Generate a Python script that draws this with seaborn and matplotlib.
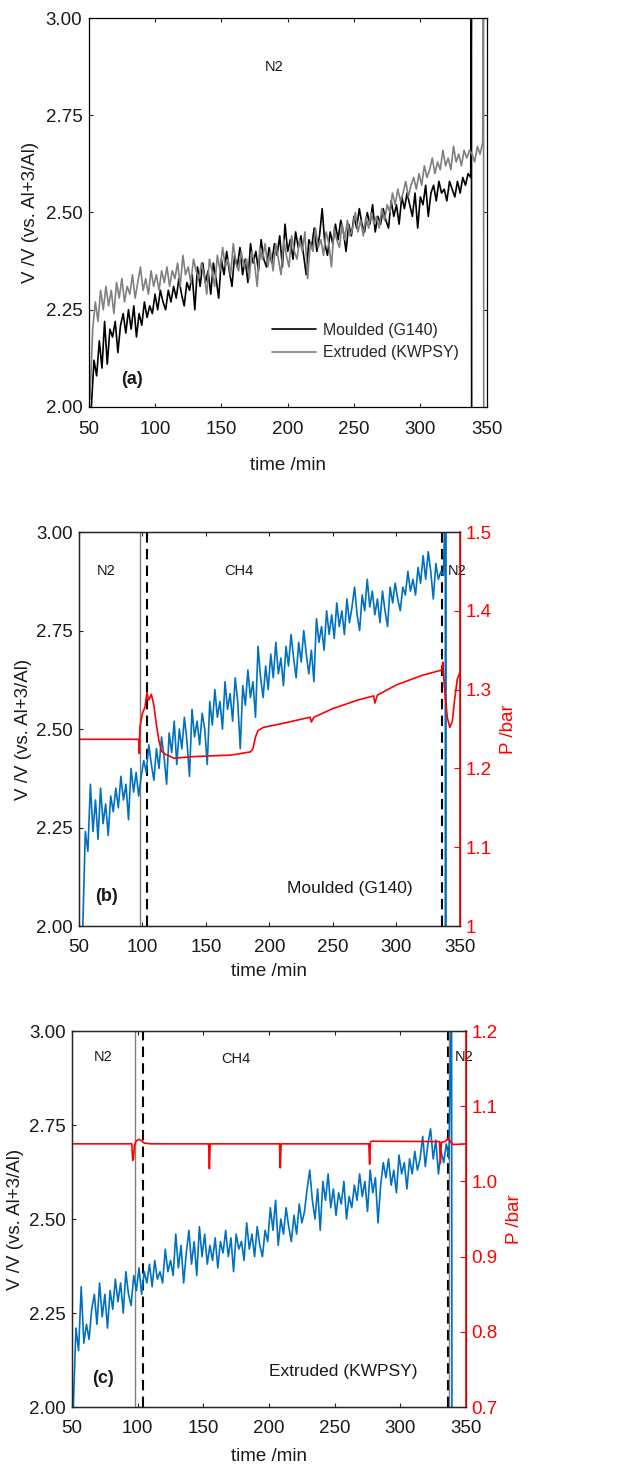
import matplotlib
matplotlib.use("Agg")
import matplotlib.pyplot as plt
import numpy as np
import seaborn as sns

# ---- panel (a): both samples under N2 (sampled every 2 min)
moulded_a_start = 52
moulded_a = [2.00, 2.12, 2.08, 2.17, 2.10, 2.22, 2.11, 2.20, 2.18, 2.22, 2.14, 2.21, 2.24, 2.19, 2.25, 2.20,
             2.26, 2.18, 2.24, 2.21, 2.27, 2.23, 2.26, 2.24, 2.29, 2.25, 2.30, 2.27, 2.25, 2.30, 2.27, 2.31,
             2.28, 2.33, 2.29, 2.26, 2.32, 2.30, 2.34, 2.25, 2.36, 2.31, 2.37, 2.32, 2.35, 2.29, 2.37, 2.33,
             2.28, 2.38, 2.34, 2.40, 2.35, 2.31, 2.39, 2.36, 2.41, 2.34, 2.38, 2.32, 2.42, 2.37, 2.40, 2.35,
             2.43, 2.38, 2.36, 2.41, 2.37, 2.42, 2.39, 2.44, 2.36, 2.47, 2.40, 2.43, 2.38, 2.45, 2.41, 2.44,
             2.39, 2.34, 2.43, 2.41, 2.46, 2.40, 2.44, 2.51, 2.42, 2.39, 2.45, 2.42, 2.47, 2.43, 2.48, 2.45,
             2.40, 2.47, 2.44, 2.49, 2.46, 2.51, 2.47, 2.45, 2.50, 2.47, 2.52, 2.45, 2.49, 2.47, 2.51, 2.48,
             2.46, 2.53, 2.49, 2.52, 2.47, 2.54, 2.51, 2.55, 2.52, 2.49, 2.55, 2.46, 2.54, 2.52, 2.57, 2.49,
             2.55, 2.57, 2.53, 2.58, 2.55, 2.56, 2.53, 2.58, 2.56, 2.54, 2.58, 2.55, 2.59, 2.57, 2.60, 2.59]
moulded_a_tail_t = [338.5, 338.7]
moulded_a_tail_v = [3.1, 1.9]

extruded_a_start = 51
extruded_a = [2.02, 2.20, 2.27, 2.22, 2.30, 2.25, 2.31, 2.26, 2.30, 2.24, 2.32, 2.28, 2.33, 2.27, 2.31, 2.29,
              2.34, 2.28, 2.32, 2.36, 2.30, 2.33, 2.29, 2.35, 2.31, 2.34, 2.30, 2.35, 2.32, 2.36, 2.31, 2.35,
              2.33, 2.37, 2.31, 2.39, 2.34, 2.36, 2.32, 2.38, 2.35, 2.33, 2.37, 2.34, 2.29, 2.38, 2.35, 2.31,
              2.39, 2.35, 2.41, 2.36, 2.38, 2.34, 2.42, 2.37, 2.35, 2.40, 2.36, 2.38, 2.33, 2.40, 2.37, 2.31,
              2.41, 2.38, 2.42, 2.36, 2.40, 2.35, 2.42, 2.38, 2.34, 2.43, 2.39, 2.36, 2.44, 2.40, 2.38, 2.43,
              2.40, 2.45, 2.33, 2.42, 2.40, 2.46, 2.41, 2.43, 2.39, 2.45, 2.42, 2.36, 2.46, 2.43, 2.41, 2.47,
              2.43, 2.48, 2.44, 2.46, 2.50, 2.45, 2.48, 2.44, 2.49, 2.46, 2.50, 2.47, 2.49, 2.46, 2.51, 2.48,
              2.52, 2.50, 2.55, 2.52, 2.56, 2.53, 2.55, 2.58, 2.54, 2.57, 2.59, 2.56, 2.60, 2.57, 2.62, 2.59,
              2.61, 2.64, 2.60, 2.63, 2.61, 2.66, 2.62, 2.64, 2.61, 2.67, 2.63, 2.65, 2.62, 2.66, 2.64, 2.66,
              2.65, 2.63, 2.67, 2.65, 2.68]
extruded_a_tail_t = [347.6, 347.8]
extruded_a_tail_v = [3.1, 1.9]

# ---- panel (b): moulded, N2 -> CH4 -> N2
volt_b_start = 53
volt_b = [2.00, 2.24, 2.19, 2.36, 2.24, 2.32, 2.22, 2.35, 2.26, 2.31, 2.23, 2.33, 2.29, 2.35, 2.30, 2.38,
          2.32, 2.36, 2.27, 2.40, 2.34, 2.39, 2.33, 2.38, 2.42, 2.39, 2.46, 2.41, 2.37, 2.45, 2.40, 2.48,
          2.43, 2.36, 2.49, 2.44, 2.52, 2.41, 2.50, 2.45, 2.53, 2.47, 2.38, 2.55, 2.48, 2.52, 2.46, 2.54,
          2.50, 2.41, 2.57, 2.51, 2.60, 2.53, 2.57, 2.50, 2.62, 2.55, 2.59, 2.52, 2.63, 2.57, 2.45, 2.61,
          2.56, 2.65, 2.58, 2.62, 2.53, 2.71, 2.63, 2.58, 2.66, 2.60, 2.69, 2.63, 2.72, 2.64, 2.68, 2.61,
          2.71, 2.66, 2.74, 2.68, 2.63, 2.72, 2.67, 2.75, 2.69, 2.64, 2.70, 2.62, 2.78, 2.72, 2.76, 2.70,
          2.80, 2.74, 2.79, 2.73, 2.82, 2.76, 2.80, 2.74, 2.83, 2.77, 2.81, 2.86, 2.79, 2.75, 2.84, 2.80,
          2.88, 2.81, 2.85, 2.79, 2.83, 2.77, 2.85, 2.80, 2.76, 2.86, 2.82, 2.87, 2.83, 2.80, 2.86, 2.84,
          2.90, 2.85, 2.88, 2.84, 2.91, 2.87, 2.94, 2.88, 2.95, 2.90, 2.83, 2.92, 2.88, 2.90, 2.89]
volt_b_tail_t = [338.5, 338.7, 338.9]
volt_b_tail_v = [3.1, 1.9, 3.1]

pres_b_t = [50, 97, 97.5, 98, 100, 102, 103.5, 105, 107, 109, 111, 113, 115, 118, 125, 140, 170, 185, 187,
            189, 191, 195, 210, 232, 233, 235, 250, 270, 282, 283, 285, 300, 320, 336, 336.5, 337, 338, 340,
            342, 344, 346, 348, 350]
pres_b = [1.237, 1.237, 1.219, 1.253, 1.270, 1.278, 1.296, 1.287, 1.294, 1.280, 1.255, 1.235, 1.222, 1.218,
          1.213, 1.215, 1.217, 1.221, 1.225, 1.240, 1.248, 1.252, 1.257, 1.265, 1.259, 1.265, 1.276, 1.287,
          1.292, 1.283, 1.293, 1.306, 1.318, 1.325, 1.335, 1.320, 1.300, 1.265, 1.252, 1.260, 1.290, 1.314,
          1.322]

# ---- panel (c): extruded, N2 -> CH4 -> N2
volt_c_start = 51
volt_c = [2.00, 2.21, 2.15, 2.32, 2.17, 2.22, 2.18, 2.26, 2.30, 2.22, 2.33, 2.24, 2.30, 2.21, 2.31, 2.26,
          2.34, 2.28, 2.33, 2.25, 2.36, 2.30, 2.27, 2.35, 2.31, 2.37, 2.30, 2.36, 2.33, 2.38, 2.32, 2.39,
          2.34, 2.36, 2.33, 2.42, 2.36, 2.39, 2.35, 2.46, 2.37, 2.43, 2.33, 2.41, 2.47, 2.38, 2.44, 2.35,
          2.48, 2.40, 2.46, 2.38, 2.43, 2.39, 2.45, 2.37, 2.44, 2.41, 2.47, 2.40, 2.45, 2.36, 2.46, 2.42,
          2.44, 2.39, 2.49, 2.42, 2.46, 2.40, 2.48, 2.43, 2.40, 2.47, 2.44, 2.53, 2.47, 2.55, 2.43, 2.50,
          2.46, 2.53, 2.48, 2.44, 2.51, 2.46, 2.54, 2.49, 2.52, 2.58, 2.63, 2.55, 2.50, 2.58, 2.47, 2.60,
          2.55, 2.62, 2.53, 2.58, 2.51, 2.57, 2.54, 2.60, 2.50, 2.56, 2.53, 2.59, 2.55, 2.62, 2.56, 2.60,
          2.52, 2.63, 2.57, 2.61, 2.49, 2.59, 2.65, 2.61, 2.66, 2.59, 2.63, 2.57, 2.67, 2.62, 2.65, 2.58,
          2.66, 2.62, 2.68, 2.63, 2.66, 2.72, 2.64, 2.70, 2.74, 2.66, 2.71, 2.62, 2.68, 2.65, 2.70, 2.66]
volt_c_tail_t = [339.0, 339.3]
volt_c_tail_v = [3.1, 1.9]

pres_c_t = [50, 95.5, 96.2, 96.8, 97.5, 99, 101, 103, 105, 110, 154, 154.6, 155.2, 208, 208.6, 209.2, 276,
            276.6, 277.2, 278, 329.8, 330.5, 331.2, 334, 336.8, 338, 340, 350]
pres_c = [1.050, 1.050, 1.028, 1.030, 1.048, 1.054, 1.056, 1.054, 1.051, 1.050, 1.050, 1.017, 1.050, 1.050,
          1.018, 1.050, 1.050, 1.023, 1.052, 1.0535, 1.053, 1.024, 1.052, 1.053, 1.058, 1.053, 1.049, 1.050]

x_ticks = [50, 100, 150, 200, 250, 300, 350]
v_ticks = [2.00, 2.25, 2.50, 2.75, 3.00]
p_ticks_b = [1.0, 1.1, 1.2, 1.3, 1.4, 1.5]
p_labels_b = ["1", "1.1", "1.2", "1.3", "1.4", "1.5"]
p_ticks_c = [0.7, 0.8, 0.9, 1.0, 1.1, 1.2]
p_labels_c = ["0.7", "0.8", "0.9", "1.0", "1.1", "1.2"]


def series(start, vals, tail_t, tail_v):
    t = start + 2 * np.arange(len(vals))
    return np.concatenate([t, tail_t]), np.concatenate([vals, tail_v])


sns.set_style("ticks")
plt.rcParams["font.family"] = ["Liberation Sans", "DejaVu Sans"]
plt.rcParams["axes.linewidth"] = 0.9

BLUE = "#0070C0"
RED = "#FF0000"
TXT = "#1a1a1a"
FS = 13.5

fig = plt.figure(figsize=(6.39, 14.66), dpi=100)


def base_axes(rect, xtick_pad, xpad, ypad):
    ax = fig.add_axes(rect)
    ax.set_xlim(50, 350)
    ax.set_ylim(2.0, 3.0)
    ax.set_xticks(x_ticks)
    ax.set_yticks(v_ticks)
    ax.set_yticklabels([f"{v:.2f}" for v in v_ticks])
    ax.tick_params(direction="in", top=True, right=True, length=3, width=0.8, labelsize=FS,
                   labelcolor=TXT)
    ax.tick_params(axis="x", pad=xtick_pad)
    ax.tick_params(axis="y", pad=4.5)
    ax.set_xlabel("time /min", fontsize=FS, color=TXT, labelpad=xpad)
    ax.set_ylabel("V /V (vs. Al+3/Al)", fontsize=FS, color=TXT, labelpad=ypad)
    for s in ax.spines.values():
        s.set_color("black")
    return ax


def pressure_axes(ax, ticks, labels):
    ax2 = ax.twinx()
    ax2.set_ylim(ticks[0], ticks[-1])
    ax2.set_yticks(ticks)
    ax2.set_yticklabels(labels)
    ax2.tick_params(direction="in", length=4, width=0.8, colors=RED, labelsize=FS, pad=4)
    ax2.spines["right"].set_color(RED)
    ax2.spines["right"].set_linewidth(1.2)
    ax2.set_ylabel("P /bar", fontsize=FS, color=RED, labelpad=6)
    return ax2


# ---------- (a)
ax_a = base_axes([0.1388, 0.7224, 0.6228, 0.2653], 10, 14, 5)
t, v = series(moulded_a_start, moulded_a, moulded_a_tail_t, moulded_a_tail_v)
sns.lineplot(x=t, y=v, ax=ax_a, color="black", lw=1.2, estimator=None, sort=False, label="Moulded (G140)")
t, v = series(extruded_a_start, extruded_a, extruded_a_tail_t, extruded_a_tail_v)
sns.lineplot(x=t, y=v, ax=ax_a, color="#808080", lw=1.2, estimator=None, sort=False, label="Extruded (KWPSY)")
ax_a.legend(loc="lower left", bbox_to_anchor=(0.44, 0.1), frameon=False, fontsize=11.4, borderpad=0,
            handlelength=2.8, handletextpad=0.45, labelspacing=0.45)
ax_a.text(189.7, 2.873, "N2", fontsize=10.5, ha="center", va="center", color=TXT)
ax_a.text(82.5, 2.07, "(a)", fontsize=13, fontweight="bold", ha="center", va="center", color=TXT)

# ---------- (b)
ax_b = base_axes([0.1236, 0.3683, 0.5962, 0.2688], 9, 5, 3)
ax_b.axvline(98.3, color="#808080", lw=1.0)
ax_b.axvline(103.8, color="black", lw=1.5, ls=(0, (5, 3)))
ax_b.axvline(336.1, color="black", lw=1.5, ls=(0, (5, 3)))
ax_b.axvline(338.0, color="#b0b0b0", lw=1.0)
t, v = series(volt_b_start, volt_b, volt_b_tail_t, volt_b_tail_v)
sns.lineplot(x=t, y=v, ax=ax_b, color=BLUE, lw=1.2, estimator=None, sort=False)
ax_b.text(71.5, 2.90, "N2", fontsize=10.5, ha="center", va="center", color=TXT)
ax_b.text(176, 2.90, "CH4", fontsize=10.5, ha="center", va="center", color=TXT)
ax_b.text(348, 2.90, "N2", fontsize=10.5, ha="center", va="center", color=TXT, clip_on=False, zorder=10)
ax_b.text(263.5, 2.095, "Moulded (G140)", fontsize=12.5, ha="center", va="center", color=TXT)
ax_b.text(71.5, 2.075, "(b)", fontsize=13, fontweight="bold", ha="center", va="center", color=TXT)
ax_b2 = pressure_axes(ax_b, p_ticks_b, p_labels_b)
sns.lineplot(x=pres_b_t, y=pres_b, ax=ax_b2, color=RED, lw=1.2, estimator=None, sort=False)
ax_b2.set_xlim(50, 350)

# ---------- (c)
ax_c = base_axes([0.1127, 0.0402, 0.6166, 0.2565], 9, 8, 3.5)
ax_c.axvline(97.7, color="#808080", lw=1.0)
ax_c.axvline(104.1, color="black", lw=1.5, ls=(0, (5, 3)))
ax_c.axvline(336.0, color="black", lw=1.5, ls=(0, (5, 3)))
ax_c.axvline(337.3, color="#808080", lw=1.0)
t, v = series(volt_c_start, volt_c, volt_c_tail_t, volt_c_tail_v)
sns.lineplot(x=t, y=v, ax=ax_c, color=BLUE, lw=1.2, estimator=None, sort=False)
ax_c.text(73.4, 2.93, "N2", fontsize=10.5, ha="center", va="center", color=TXT)
ax_c.text(174.4, 2.926, "CH4", fontsize=10.5, ha="center", va="center", color=TXT)
ax_c.text(348.8, 2.93, "N2", fontsize=10.5, ha="center", va="center", color=TXT, clip_on=False, zorder=10)
ax_c.text(256.4, 2.095, "Extruded (KWPSY)", fontsize=12.5, ha="center", va="center", color=TXT)
ax_c.text(73.4, 2.077, "(c)", fontsize=13, fontweight="bold", ha="center", va="center", color=TXT)
ax_c2 = pressure_axes(ax_c, p_ticks_c, p_labels_c)
sns.lineplot(x=pres_c_t, y=pres_c, ax=ax_c2, color=RED, lw=1.2, estimator=None, sort=False)
ax_c2.set_xlim(50, 350)

fig.savefig("out.png", dpi=100)
